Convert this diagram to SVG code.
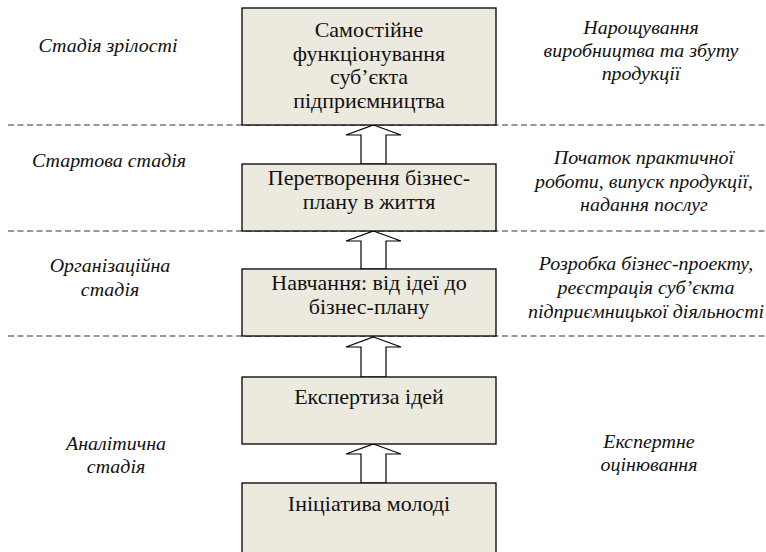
<svg xmlns="http://www.w3.org/2000/svg" width="766" height="552" viewBox="0 0 766 552">
<style>
.box{fill:#ECE9DF;stroke:#000;stroke-width:1.3}
.dash{stroke:#333;stroke-width:1;stroke-dasharray:6 3.5;fill:none}
.arr{fill:#fff;stroke:#000;stroke-width:1.2;stroke-linejoin:miter}
.bt{font-family:'Liberation Serif','Times New Roman',serif;font-size:20px;fill:#111;text-anchor:middle}
.it{font-family:'Liberation Serif','Times New Roman',serif;font-size:19px;font-style:italic;fill:#111;text-anchor:middle}
</style>
<rect width="766" height="552" fill="#fff"/>
<g id="dividers">
<line class="dash" x1="8" y1="125" x2="766" y2="125"/>
<line class="dash" x1="8" y1="231" x2="766" y2="231"/>
<line class="dash" x1="8" y1="336" x2="766" y2="336"/>
</g>
<g id="labels-left">
<g transform="translate(108 0) scale(1.05 1)"><text class="it" x="0" y="52">Стадія зрілості</text></g>
<g transform="translate(109 0) scale(1.05 1)"><text class="it" x="0" y="167">Стартова стадія</text></g>
<g transform="translate(110 0) scale(1.05 1)"><text class="it" x="0" y="272">Організаційна</text>
<text class="it" x="0" y="296">стадія</text></g>
<g transform="translate(116 0) scale(1.05 1)"><text class="it" x="0" y="450">Аналітична</text>
<text class="it" x="0" y="473">стадія</text></g>
</g>
<g id="labels-right">
<g transform="translate(641 0) scale(1.05 1)"><text class="it" x="0" y="34">Нарощування</text>
<text class="it" x="0" y="57">виробництва та збуту</text>
<text class="it" x="0" y="80">продукції</text></g>
<g transform="translate(644 0) scale(1.05 1)"><text class="it" x="0" y="164">Початок практичної</text>
<text class="it" x="0" y="188">роботи, випуск продукції,</text>
<text class="it" x="0" y="211">надання послуг</text></g>
<g transform="translate(646 0) scale(1.05 1)"><text class="it" x="0" y="270">Розробка бізнес-проекту,</text>
<text class="it" x="0" y="294">реєстрація суб’єкта</text>
<text class="it" x="0" y="318">підприємницької діяльності</text></g>
<g transform="translate(649 0) scale(1.05 1)"><text class="it" x="0" y="448">Експертне</text>
<text class="it" x="0" y="471">оцінювання</text></g>
</g>
<g id="connectors">
<polygon class="arr" points="373.5,125 401,135 386,135 386,164 361,164 361,135 346,135"/>
<polygon class="arr" points="373.5,231 401,241 386,241 386,269 361,269 361,241 346,241"/>
<polygon class="arr" points="373.5,337 401,347 386,347 386,377 361,377 361,347 346,347"/>
<polygon class="arr" points="373.5,444 401,454 386,454 386,483 361,483 361,454 346,454"/>
</g>
<g id="node-maturity">
<rect class="box" x="242" y="8" width="254" height="117"/>
<g transform="translate(369 0) scale(1.1 1)">
<text class="bt" x="0" y="37">Самостійне</text>
<text class="bt" x="0" y="61">функціонування</text>
<text class="bt" x="0" y="84">суб’єкта</text>
<text class="bt" x="0" y="108">підприємництва</text>
</g>
</g>
<g id="node-start">
<rect class="box" x="242" y="164" width="254" height="67"/>
<g transform="translate(369 0) scale(1.1 1)">
<text class="bt" x="0" y="185">Перетворення бізнес-</text>
<text class="bt" x="0" y="209">плану в життя</text>
</g>
</g>
<g id="node-org">
<rect class="box" x="242" y="269" width="254" height="67"/>
<g transform="translate(369 0) scale(1.1 1)">
<text class="bt" x="0" y="290">Навчання: від ідеї до</text>
<text class="bt" x="0" y="314">бізнес-плану</text>
</g>
</g>
<g id="node-expertise">
<rect class="box" x="242" y="377" width="254" height="67"/>
<g transform="translate(369 0) scale(1.1 1)">
<text class="bt" x="0" y="404">Експертиза ідей</text>
</g>
</g>
<g id="node-initiative">
<rect class="box" x="242" y="483" width="254" height="80"/>
<g transform="translate(369 0) scale(1.1 1)">
<text class="bt" x="0" y="511">Ініціатива молоді</text>
</g>
</g>
</svg>
